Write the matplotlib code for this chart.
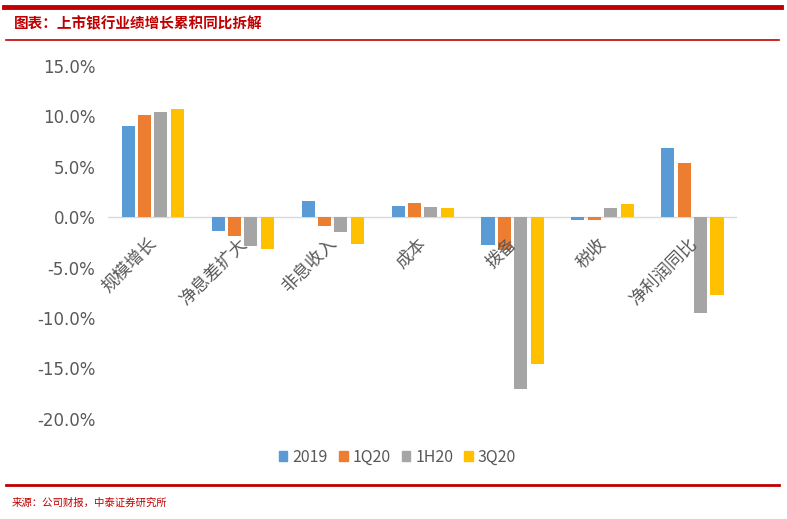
import matplotlib.pyplot as plt
from matplotlib.lines import Line2D
from matplotlib.patches import Patch
import numpy as np

plt.rcParams['font.family'] = ['Noto Sans CJK SC', 'DejaVu Sans']

# data (%)
categories = ['规模增长', '净息差扩大', '非息收入', '成本', '拨备', '税收', '净利润同比']
series_names = ['2019', '1Q20', '1H20', '3Q20']
v2019 = [9.0, -1.4, 1.6, 1.1, -2.8, -0.25, 6.9]
v1q20 = [10.1, -1.9, -0.9, 1.4, -3.3, -0.25, 5.4]
v1h20 = [10.4, -2.9, -1.5, 1.0, -17.0, 0.9, -9.5]
v3q20 = [10.7, -3.2, -2.7, 0.9, -14.6, 1.3, -7.7]
yticks = [15, 10, 5, 0, -5, -10, -15, -20]

colors = ['#5B9BD5', '#ED7D31', '#A5A5A5', '#FFC000']
red = '#C00000'
txt = '#595959'

fig = plt.figure(figsize=(7.87, 5.19), dpi=100)
ax = fig.add_axes([0.137, 0.193, 0.800, 0.680])

x = np.arange(len(categories))
step = 0.182
width = 0.145
for k, vals in enumerate([v2019, v1q20, v1h20, v3q20]):
    ax.bar(x + (k - 1.5) * step, vals, width=width, color=colors[k], zorder=3)

ax.set_xlim(-0.5, len(categories) - 0.5)
ax.set_ylim(-20, 15)
ax.set_yticks(yticks)
ax.set_yticklabels([f'{t:.1f}%' for t in yticks], fontsize=12, color=txt,
                   family=['DejaVu Sans'])
ax.tick_params(axis='y', length=0, pad=9)
ax.set_xticks([])
for s in ax.spines.values():
    s.set_visible(False)
ax.axhline(0, color='#D9D9D9', lw=1, zorder=2)

for i, c in enumerate(categories):
    ax.annotate(c, xy=(i, 0), xytext=(1, -17), textcoords='offset points',
                ha='right', va='center', rotation=45, rotation_mode='anchor',
                fontsize=12.5, color=txt)

handles = [Patch(color=colors[k], label=series_names[k]) for k in range(4)]
fig.legend(handles=handles, loc='center', bbox_to_anchor=(0.505, 0.119), ncol=4,
           frameon=False, fontsize=11.5, handlelength=0.55, handleheight=0.55,
           handletextpad=0.3, columnspacing=0.7, labelcolor=txt)

# header / footer decoration
fig.add_artist(Line2D([0.005, 0.992], [0.986, 0.986], color=red, lw=3.5))
fig.add_artist(Line2D([0.008, 0.99], [0.923, 0.923], color=red, lw=1.2))
fig.add_artist(Line2D([0.008, 0.99], [0.065, 0.065], color=red, lw=2))
fig.text(0.018, 0.955, '图表：上市银行业绩增长累积同比拆解', color=red, fontsize=10.5,
         fontweight='bold', style='italic', va='center', ha='left')
fig.text(0.015, 0.031, '来源：公司财报，中泰证券研究所', color=red, fontsize=7.5,
         va='center', ha='left')

fig.savefig('out.png', dpi=100)
